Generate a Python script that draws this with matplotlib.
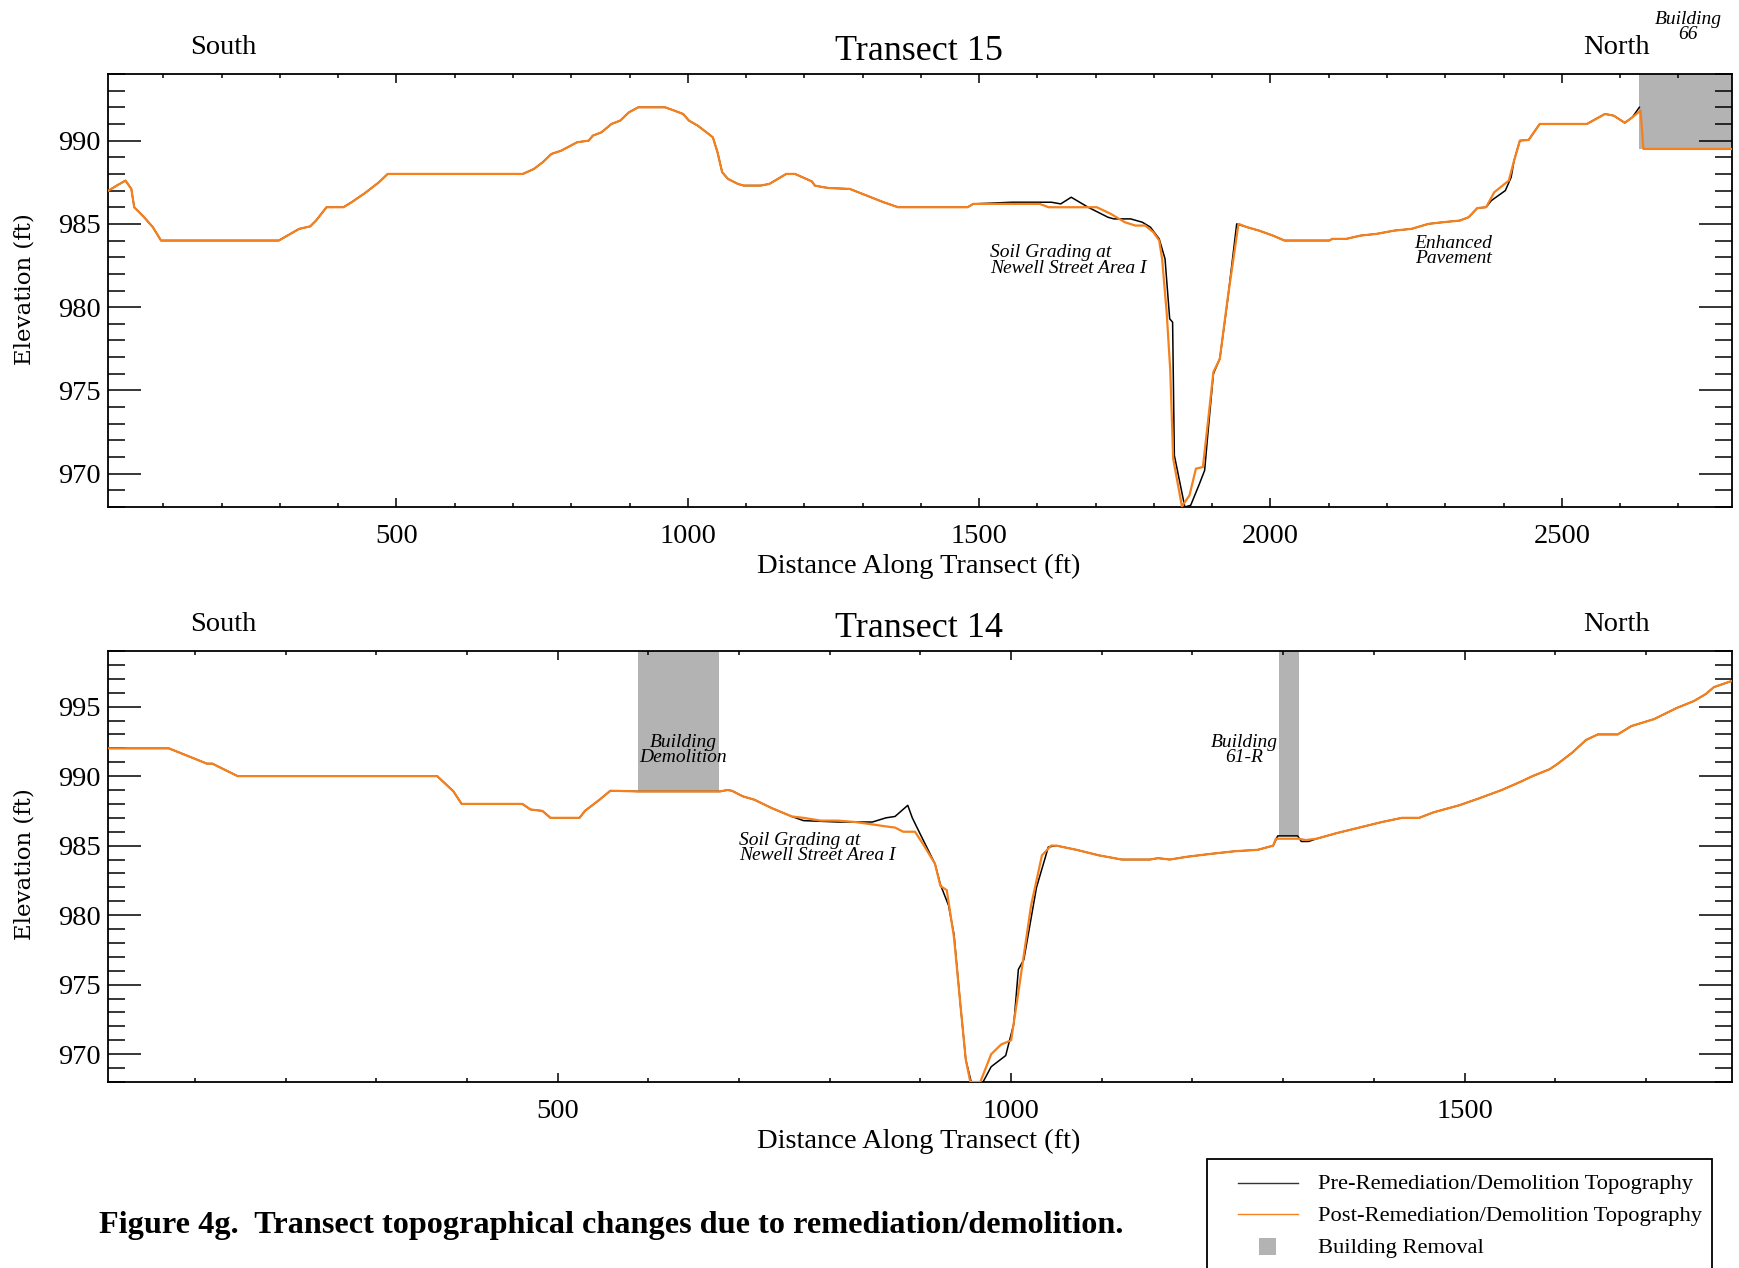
import numpy as np
import matplotlib
matplotlib.use("Agg")
import matplotlib.pyplot as plt
from matplotlib.lines import Line2D
from matplotlib.patches import Rectangle
from matplotlib.ticker import MultipleLocator

# ---- Transect 15 (distance ft, elevation ft) ----
t15_post_x = [6, 20, 35, 45, 50, 67, 82, 96, 298, 333, 352, 362, 380, 409, 423, 446, 470, 485,
              717, 736, 751, 766, 783, 810, 830, 837, 852, 869, 884, 899, 915, 961, 977, 992,
              1002, 1017, 1032, 1043, 1051, 1059, 1069, 1086, 1096, 1125, 1140, 1169, 1184,
              1213, 1218, 1233, 1243, 1278, 1307, 1336, 1361, 1480, 1490, 1604, 1619, 1702,
              1726, 1750, 1768, 1785, 1799, 1809, 1814, 1822, 1828, 1833, 1848, 1861, 1872,
              1884, 1892, 1902, 1913, 1926, 1945, 1960, 1980, 2004, 2024, 2101, 2106, 2130,
              2155, 2182, 2213, 2242, 2271, 2296, 2325, 2340, 2355, 2370, 2384, 2409, 2418,
              2428, 2443, 2462, 2543, 2574, 2589, 2608, 2621, 2635, 2640, 2792]
t15_post_y = [987.0, 987.3, 987.6, 987.1, 986.0, 985.4, 984.8, 984.0, 984.0, 984.7, 984.85,
              985.2, 986.0, 986.0, 986.3, 986.85, 987.5, 988.0, 988.0, 988.3, 988.7, 989.2,
              989.4, 989.9, 990.0, 990.3, 990.5, 991.0, 991.2, 991.7, 992.0, 992.0, 991.8,
              991.6, 991.2, 990.9, 990.5, 990.2, 989.3, 988.1, 987.7, 987.4, 987.3, 987.3,
              987.4, 988.0, 988.0, 987.55, 987.3, 987.2, 987.15, 987.1, 986.7, 986.3, 986.0,
              986.0, 986.2, 986.2, 986.0, 986.0, 985.6, 985.1, 984.9, 984.9, 984.5, 984.0,
              982.9, 979.6, 976.2, 970.9, 968.04, 968.7, 970.3, 970.4, 972.9, 976.1, 976.9,
              980.4, 985.0, 984.8, 984.6, 984.3, 984.0, 984.0, 984.1, 984.1, 984.3, 984.4,
              984.6, 984.7, 985.0, 985.1, 985.2, 985.4, 985.95, 986.0, 986.9, 987.6, 988.8,
              990.0, 990.04, 991.0, 991.0, 991.6, 991.5, 991.07, 991.4, 991.8, 989.5, 989.5]

t15_pre_x = [6, 20, 35, 45, 50, 67, 82, 96, 298, 333, 352, 362, 380, 409, 423, 446, 470, 485,
             717, 736, 751, 766, 783, 810, 830, 837, 852, 869, 884, 899, 915, 961, 977, 992,
             1002, 1017, 1032, 1043, 1051, 1059, 1069, 1086, 1096, 1125, 1140, 1169, 1184,
             1213, 1218, 1233, 1243, 1278, 1307, 1336, 1361, 1480, 1490, 1556, 1624, 1640,
             1658, 1687, 1721, 1731, 1760, 1780, 1794, 1809, 1819, 1827, 1832, 1835, 1853,
             1863, 1877, 1887, 1892, 1902, 1913, 1926, 1942, 1960, 1980, 2004, 2024, 2101,
             2106, 2130, 2155, 2182, 2213, 2242, 2271, 2296, 2325, 2340, 2355, 2370, 2379,
             2403, 2413, 2418, 2428, 2443, 2462, 2543, 2574, 2589, 2608, 2621, 2633]
t15_pre_y = [987.0, 987.3, 987.6, 987.1, 986.0, 985.4, 984.8, 984.0, 984.0, 984.7, 984.85,
             985.2, 986.0, 986.0, 986.3, 986.85, 987.5, 988.0, 988.0, 988.3, 988.7, 989.2,
             989.4, 989.9, 990.0, 990.3, 990.5, 991.0, 991.2, 991.7, 992.0, 992.0, 991.8,
             991.6, 991.2, 990.9, 990.5, 990.2, 989.3, 988.1, 987.7, 987.4, 987.3, 987.3,
             987.4, 988.0, 988.0, 987.55, 987.3, 987.2, 987.15, 987.1, 986.7, 986.3, 986.0,
             986.0, 986.2, 986.3, 986.3, 986.2, 986.6, 986.0, 985.4, 985.3, 985.3, 985.1,
             984.8, 984.1, 982.9, 979.3, 979.1, 971.1, 968.0, 968.1, 969.3, 970.2, 972.2,
             976.0, 976.9, 980.3, 985.0, 984.8, 984.6, 984.3, 984.0, 984.0, 984.1, 984.1,
             984.3, 984.4, 984.6, 984.7, 985.0, 985.1, 985.2, 985.4, 985.95, 986.0, 986.4,
             987.0, 987.8, 988.8, 990.0, 990.04, 991.0, 991.0, 991.6, 991.5, 991.07, 991.4,
             992.0]

# ---- Transect 14 ----
t14_post_x = [4, 71, 94, 113, 119, 147, 367, 372, 385, 394, 461, 470, 483, 492, 524, 530, 540,
              546, 558, 589, 679, 687, 692, 704, 717, 736, 758, 771, 790, 809, 828, 850, 860,
              872, 881, 894, 903, 916, 922, 929, 937, 944, 950, 955, 966, 978, 989, 1000, 1009,
              1022, 1034, 1044, 1050, 1072, 1097, 1122, 1153, 1162, 1175, 1194, 1219, 1247,
              1272, 1289, 1292, 1317, 1325, 1337, 1359, 1384, 1409, 1431, 1450, 1466, 1494,
              1516, 1541, 1562, 1575, 1594, 1603, 1619, 1634, 1647, 1669, 1684, 1709, 1734,
              1753, 1766, 1775, 1795]
t14_post_y = [992.0, 992.0, 991.4, 990.9, 990.9, 990.0, 990.0, 989.7, 988.9, 988.0, 988.0,
              987.6, 987.5, 987.0, 987.0, 987.5, 988.0, 988.3, 988.95, 988.9, 988.9, 989.0,
              988.95, 988.55, 988.3, 987.7, 987.1, 987.0, 986.8, 986.8, 986.7, 986.5, 986.4,
              986.3, 986.0, 986.0, 985.1, 983.7, 982.1, 981.8, 978.4, 973.6, 969.6, 968.0,
              968.0, 970.0, 970.7, 971.0, 974.9, 980.7, 984.3, 985.0, 985.0, 984.7, 984.3,
              984.0, 984.0, 984.1, 984.0, 984.2, 984.4, 984.6, 984.7, 985.0, 985.5, 985.5,
              985.4, 985.5, 985.9, 986.3, 986.7, 987.0, 987.0, 987.4, 987.9, 988.4, 989.0,
              989.6, 990.0, 990.5, 990.9, 991.7, 992.6, 993.0, 993.0, 993.6, 994.1, 994.9,
              995.4, 995.9, 996.4, 996.85]

t14_pre_x = [4, 71, 94, 113, 119, 147, 367, 372, 385, 394, 461, 470, 483, 492, 524, 530, 540,
             546, 558, 589, 679, 687, 692, 704, 717, 736, 758, 771, 809, 847, 862, 872, 886,
             891, 900, 916, 922, 931, 937, 944, 950, 956, 969, 978, 994, 1003, 1008, 1014,
             1028, 1041, 1050, 1072, 1097, 1122, 1153, 1162, 1175, 1194, 1219, 1247, 1272,
             1289, 1294, 1316, 1320, 1328, 1337, 1359, 1384, 1409, 1431, 1450, 1466, 1494,
             1516, 1541, 1562, 1575, 1594, 1603, 1619, 1634, 1647, 1669, 1684, 1709, 1734,
             1753, 1766, 1775, 1795]
t14_pre_y = [992.0, 992.0, 991.4, 990.9, 990.9, 990.0, 990.0, 989.7, 988.9, 988.0, 988.0,
             987.6, 987.5, 987.0, 987.0, 987.5, 988.0, 988.3, 988.95, 988.9, 988.9, 989.0,
             988.95, 988.55, 988.3, 987.7, 987.1, 986.8, 986.7, 986.7, 987.0, 987.1, 987.9,
             987.0, 985.8, 983.7, 982.2, 980.7, 978.6, 973.6, 969.6, 968.0, 968.0, 969.1,
             969.9, 972.2, 976.1, 976.8, 982.0, 984.9, 985.0, 984.7, 984.3, 984.0, 984.0,
             984.1, 984.0, 984.2, 984.4, 984.6, 984.7, 985.0, 985.7, 985.7, 985.3, 985.3,
             985.5, 985.9, 986.3, 986.7, 987.0, 987.0, 987.4, 987.9, 988.4, 989.0, 989.6,
             990.0, 990.5, 990.9, 991.7, 992.6, 993.0, 993.0, 993.6, 994.1, 994.9, 995.4,
             995.9, 996.4, 996.85]

# building removal footprints: (x start, x end, base elevation)
t15_buildings = [(2632, 2792, 989.5)]
t14_buildings = [(588, 678, 988.9), (1295, 1317, 985.7)]

W, H = 1739, 1268
ORANGE = '#f5801c'
GRAY = '#b3b3b3'
SERIF = 'Liberation Serif'

plt.rcParams['font.family'] = SERIF


def fx(px):
    return px / W


def fy(py):
    return 1 - py / H


fig = plt.figure(figsize=(W / 100, H / 100), dpi=100)


def setup(ax, xlim, ylim):
    ax.set_xlim(*xlim)
    ax.set_ylim(*ylim)
    ax.xaxis.set_major_locator(MultipleLocator(500))
    ax.xaxis.set_minor_locator(MultipleLocator(100))
    ax.yaxis.set_major_locator(MultipleLocator(5))
    ax.yaxis.set_minor_locator(MultipleLocator(1))
    ax.tick_params(axis='both', which='both', direction='in', top=True, right=True,
                   width=1.1, labelsize=20.5)
    ax.tick_params(axis='x', which='major', length=6.5, pad=12)
    ax.tick_params(axis='x', which='minor', length=3.2)
    ax.tick_params(axis='y', which='major', length=23.5, pad=5)
    ax.tick_params(axis='y', which='minor', length=12)
    for s in ax.spines.values():
        s.set_linewidth(1.3)


def panel(ax, pre_x, pre_y, post_x, post_y, buildings, ytop):
    for x0, x1, yb in buildings:
        ax.fill_between([x0, x1], yb, ytop, color=GRAY, lw=0, zorder=1)
    ax.plot(pre_x, pre_y, color='black', lw=1.1, zorder=2)
    ax.plot(post_x, post_y, color=ORANGE, lw=1.6, zorder=3)


# top panel: Transect 15
ax1 = fig.add_axes([fx(108), fy(507), fx(1732 - 108), (507 - 74) / H])
setup(ax1, (5, 2792), (968, 994))
panel(ax1, t15_pre_x, t15_pre_y, t15_post_x, t15_post_y, t15_buildings, 994)
ax1.text(1519, 982.8, 'Soil Grading at\nNewell Street Area I', style='italic', fontsize=14,
         ha='left', va='center', linespacing=0.85)
ax1.text(2314, 983.4, 'Enhanced\nPavement', style='italic', fontsize=14,
         ha='center', va='center', linespacing=0.85)

# bottom panel: Transect 14
ax2 = fig.add_axes([fx(108), fy(1082), fx(1732 - 108), (1082 - 651) / H])
setup(ax2, (4, 1795), (968, 999))
panel(ax2, t14_pre_x, t14_pre_y, t14_post_x, t14_post_y, t14_buildings, 999)
ax2.text(638, 991.9, 'Building\nDemolition', style='italic', fontsize=14,
         ha='center', va='center', linespacing=0.85)
ax2.text(1257, 991.9, 'Building\n61-R', style='italic', fontsize=14,
         ha='center', va='center', linespacing=0.85)
ax2.text(700, 984.85, 'Soil Grading at\nNewell Street Area I', style='italic', fontsize=14,
         ha='left', va='center', linespacing=0.85)

# titles / direction labels / axis labels
for top, bottom, name in [(51.5, 507, 'Transect 15'), (628.5, 1082, 'Transect 14')]:
    fig.text(fx(919), fy(top), name, fontsize=26, ha='center', va='center')
    fig.text(fx(223), fy(top - 4), 'South', fontsize=20.5, ha='center', va='center')
    fig.text(fx(1616), fy(top - 4), 'North', fontsize=20.5, ha='center', va='center')
    fig.text(fx(919), fy(bottom + 59), 'Distance Along Transect (ft)', fontsize=20.5,
             ha='center', va='center')
    fig.text(fx(25), fy(bottom - 218), 'Elevation (ft)', fontsize=16.5, family='DejaVu Serif',
             rotation=90, ha='center', va='center')

fig.text(fx(1688), fy(27), 'Building\n66', style='italic', fontsize=14, ha='center',
         va='center', linespacing=0.85)

fig.text(fx(99), fy(1225), 'Figure 4g.  Transect topographical changes due to remediation/demolition.',
         fontsize=23.2, fontweight='bold', ha='left', va='center')

# legend box (runs off the bottom of the page)
fig.add_artist(Rectangle((fx(1207), fy(1300)), fx(1712 - 1207), (1300 - 1159) / H,
                         transform=fig.transFigure, fill=False, lw=1.3, ec='black'))
fig.add_artist(Line2D([fx(1238), fx(1298)], [fy(1183), fy(1183)], transform=fig.transFigure,
                      color='#333333', lw=1.0))
fig.add_artist(Line2D([fx(1238), fx(1298)], [fy(1214), fy(1214)], transform=fig.transFigure,
                      color=ORANGE, lw=1.0))
fig.add_artist(Rectangle((fx(1259), fy(1255)), fx(17), 17 / H, transform=fig.transFigure,
                         color=GRAY, lw=0))
fig.text(fx(1318), fy(1184.5), 'Pre-Remediation/Demolition Topography', fontsize=16.2, va='center')
fig.text(fx(1318), fy(1216), 'Post-Remediation/Demolition Topography', fontsize=16.2, va='center')
fig.text(fx(1318), fy(1248), 'Building Removal', fontsize=16.2, va='center')

fig.savefig('out.png', dpi=100)
